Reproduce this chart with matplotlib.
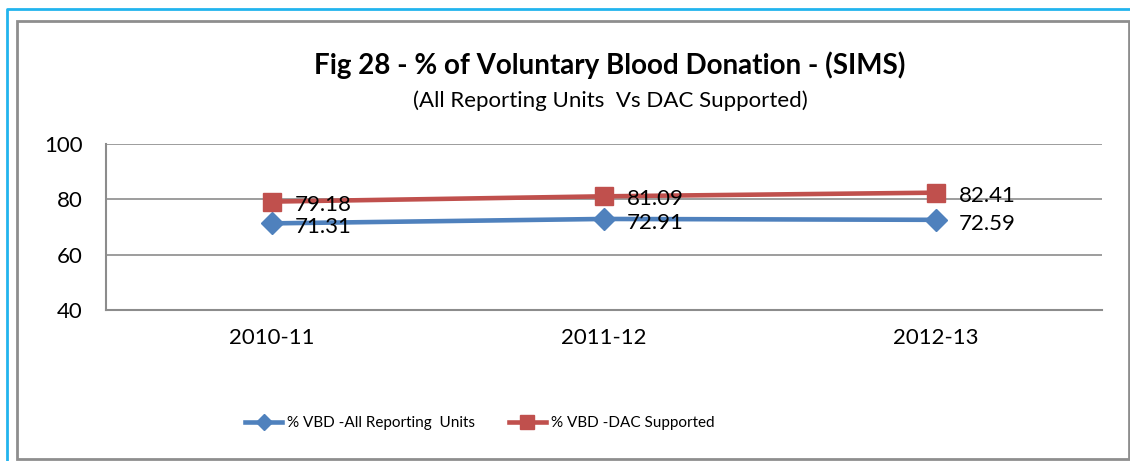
import matplotlib
matplotlib.use("Agg")
import matplotlib.pyplot as plt
from matplotlib.lines import Line2D
from matplotlib.patches import Rectangle

plt.rcParams['font.family'] = ['Lato', 'DejaVu Sans']

years = ["2010-11", "2011-12", "2012-13"]
all_units = [71.31, 72.91, 72.59]
dac_supported = [79.18, 81.09, 82.41]
series_names = ["% VBD -All Reporting  Units", "% VBD -DAC Supported"]

W, H = 1130, 461
fig = plt.figure(figsize=(W / 100, H / 100), dpi=100)

# outer frame lines (pixel coords)
fig.add_artist(Line2D([7 / W, 7 / W, 1.0], [0, 1 - 9 / H, 1 - 9 / H],
                      transform=fig.transFigure, color="#22b4ee", lw=2))
fig.add_artist(Rectangle((17 / W, 1 - 459 / H), 1112 / W, 438 / H,
                         transform=fig.transFigure, fill=False,
                         edgecolor="#8e8e8e", lw=2))

ax = fig.add_axes([106 / W, 1 - 310 / H, 996 / W, 166 / H])
x = range(len(years))

ax.plot(x, all_units, color="#4F81BD", lw=3.3, marker="D", ms=11,
        label=series_names[0], zorder=3)
ax.plot(x, dac_supported, color="#C0504D", lw=3.3, marker="s", ms=13,
        label=series_names[1], zorder=3)

for xi, v in zip(x, all_units):
    ax.annotate(f"{v:.2f}", (xi, v), xytext=(23, -4), textcoords="offset pixels",
                ha="left", va="center", fontsize=16, color="black")
for xi, v in zip(x, dac_supported):
    ax.annotate(f"{v:.2f}", (xi, v), xytext=(23, -3), textcoords="offset pixels",
                ha="left", va="center", fontsize=16, color="black")

ax.set_xlim(-0.5, 2.5)
ax.set_ylim(40, 100)
ax.set_yticks([40, 60, 80, 100])
ax.set_xticks(list(x))
ax.set_xticklabels(years)
ax.tick_params(axis="both", length=0, labelsize=16)
ax.tick_params(axis="y", pad=17)
ax.tick_params(axis="x", pad=13)
ax.yaxis.grid(True, color="#8c8c8c", lw=1.2)
ax.set_axisbelow(True)
for s in ["top", "right"]:
    ax.spines[s].set_visible(False)
for s in ["left", "bottom"]:
    ax.spines[s].set_color("#8c8c8c")
    ax.spines[s].set_linewidth(1.5)

fig.text(610 / W, 1 - 65 / H, "Fig 28 - % of Voluntary Blood Donation - (SIMS)",
         ha="center", va="center", fontsize=20, fontweight="bold")
fig.text(610 / W, 1 - 101 / H, "(All Reporting Units  Vs DAC Supported)",
         ha="center", va="center", fontsize=16)

fig.legend(loc="center", bbox_to_anchor=(480 / W, 1 - 423 / H), ncol=2,
           frameon=False, fontsize=11, handlelength=2.4, columnspacing=2.2,
           handletextpad=0.35, markerscale=0.75)

fig.savefig("out.png", dpi=100)
